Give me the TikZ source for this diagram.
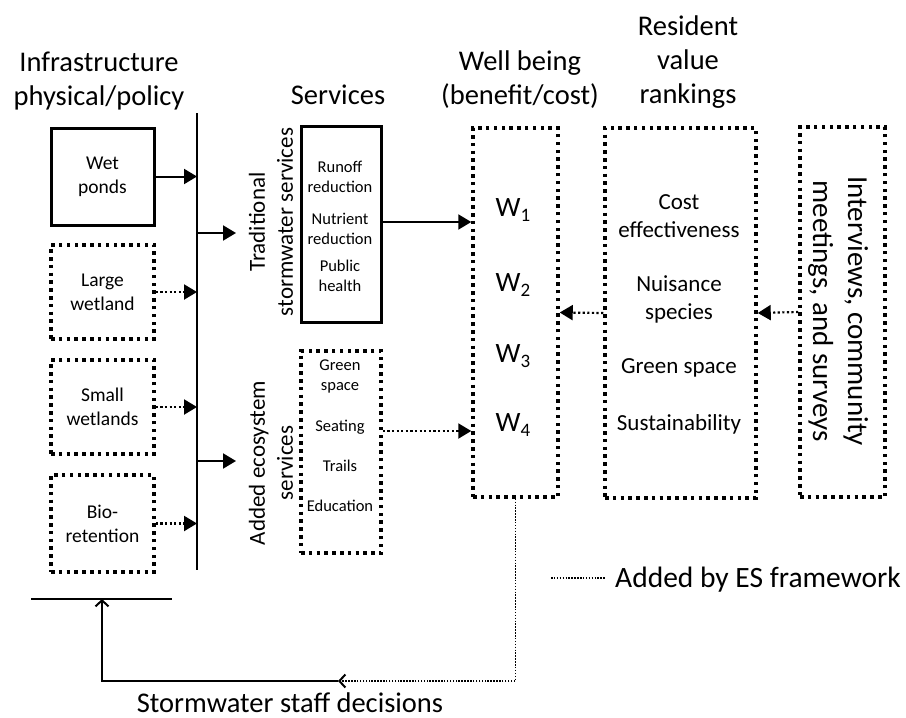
\documentclass[tikz,border=0pt]{standalone}
\usepackage{fontspec}
\setmainfont{Carlito}
\usetikzlibrary{arrows.meta}
\newcommand\myfs[2]{\fontsize{#1}{#2}\selectfont}
\newcommand\wsub[1]{W\raisebox{-0.4ex}{\myfs{19}{20}#1}}
\begin{document}
\begin{tikzpicture}[x=1pt,y=-1pt,
 solidbox/.style={draw, line width=3pt, inner sep=0pt},
 dotbox/.style={draw, line width=3.5pt, dash pattern=on 3.5pt off 4.3pt, inner sep=0pt},
 title/.style={align=center, font=\myfs{28.5}{34}},
 boxtxt/.style={align=center, font=\myfs{19.5}{24}},
 svctxt/.style={align=center, font=\myfs{16.5}{20}},
 ranktxt/.style={align=center, font=\myfs{23}{28}},
 wtxt/.style={font=\myfs{28}{30}},
 conn/.style={line width=2pt, -{Triangle[length=13pt,width=15pt]}},
 dotconn/.style={line width=2.2pt, dash pattern=on 2.2pt off 2.4pt, -{Triangle[length=13pt,width=15pt]}},
 thindot/.style={line width=1.5pt, dash pattern=on 1.5pt off 1.4pt},
 openarrow/.style={-{Straight Barb[length=6pt,width=13pt,line width=2pt]}},
]
\useasboundingbox (0,0) rectangle (906,718);

% titles
\node[title] (t1) at (99,81) {Infrastructure\\physical/policy};
\node[title] (t2) at (338,95) {Services};
\node[title] (t3) at (520,80) {Well being\\(benefit/cost)};
\node[title] (t4) at (688,62) {Resident\\value\\rankings};

% infrastructure boxes
\node[solidbox, minimum width=103pt, minimum height=97pt, boxtxt] (wet) at (102.5,176.5) {Wet\\ponds};
\node[dotbox, minimum width=103pt, minimum height=94pt, boxtxt] (large) at (102.5,292) {Large\\wetland};
\node[dotbox, minimum width=103pt, minimum height=94pt, boxtxt] (small) at (102.5,407) {Small\\wetlands};
\node[dotbox, minimum width=103pt, minimum height=97pt, boxtxt] (bio) at (102.5,523.5) {Bio-\\retention};

% bus line
\coordinate (bustop) at (197,113);
\coordinate (busbot) at (197,570);
\draw[line width=2.7pt] (bustop) -- (busbot);

\draw[conn] (wet.east) -- (wet.east -| bustop);
\draw[dotconn] (large.east) -- (large.east -| bustop);
\draw[dotconn] (small.east) -- (small.east -| bustop);
\draw[dotconn] (bio.east) -- (bio.east -| bustop);

\coordinate (tradin) at (236,233);
\coordinate (addin) at (236,461);
\draw[conn] (tradin -| bustop) -- (tradin);
\draw[conn] (addin -| bustop) -- (addin);

% rotated labels
\node[rotate=90, align=center, font=\myfs{23}{28}] (tradlbl) at (271,222) {Traditional\\stormwater services};
\node[rotate=90, align=center, font=\myfs{23}{28}] (addlbl) at (271,463) {Added ecosystem\\services};

% services boxes
\node[solidbox, minimum width=80pt, minimum height=196pt] (trad) at (341,224) {};
\node[svctxt] (s1) at (340,177) {Runoff\\reduction};
\node[svctxt] (s2) at (340,228.5) {Nutrient\\reduction};
\node[svctxt] (s3) at (340,276) {Public\\health};

\node[dotbox, minimum width=80pt, minimum height=202pt] (added) at (341,452) {};
\node[svctxt] (e1) at (340,376) {Green\\space};
\node[svctxt] (e2) at (340,427) {Seating};
\node[svctxt] (e3) at (340,466) {Trails};
\node[svctxt] (e4) at (340,506) {Education};

% well being box
\node[dotbox, minimum width=85pt, minimum height=369pt] (wbox) at (515.5,312.5) {};
\node[wtxt] (w1) at (513,210) {\wsub{1}};
\node[wtxt] (w2) at (513,285) {\wsub{2}};
\node[wtxt] (w3) at (513,356) {\wsub{3}};
\node[wtxt] (w4) at (513,425) {\wsub{4}};

\draw[conn] ([yshift=2pt]trad.east) -- ([yshift=2pt]trad.east -| wbox.west);
\draw[dotconn] ([yshift=21pt]added.east) -- ([yshift=21pt]added.east -| wbox.west);

% rankings box
\node[dotbox, minimum width=151pt, minimum height=370pt] (rank) at (680.5,313) {};
\node[ranktxt] (r1) at (679,216) {Cost\\effectiveness};
\node[ranktxt] (r2) at (679,299) {Nuisance\\species};
\node[ranktxt] (r3) at (679,368) {Green space};
\node[ranktxt] (r4) at (679,424) {Sustainability};

% interviews box
\node[dotbox, minimum width=85pt, minimum height=370pt] (intv) at (842.5,312) {};
\node[rotate=-90, align=center, font=\myfs{29}{35}] (intvtxt) at (838,311) {Interviews, community\\meetings, and surveys};

\draw[dotconn] (intv.west) -- (rank.east);
\draw[dotconn] (rank.west) -- (wbox.east);

% feedback loop
\coordinate (corner) at (515.5,681);
\coordinate (mid) at (338,681);
\coordinate (turn) at (102,681);
\coordinate (barL) at (31,599);
\coordinate (barR) at (172,599);
\draw[thindot, openarrow] (wbox.south) -- (corner) -- (mid);
\draw[line width=2.2pt, openarrow] (mid) -- (turn) -- (turn |- barL);
\draw[line width=2.2pt] (barL) -- (barR);
\node[title, anchor=base] (staff) at (290,712) {Stormwater staff decisions};

% legend
\coordinate (legL) at (551,578);
\coordinate (legR) at (606,578);
\draw[thindot] (legL) -- (legR);
\node[anchor=west, font=\myfs{29.5}{34}, inner sep=0pt] (legtxt) at (615,580) {Added by ES framework};
\end{tikzpicture}
\end{document}
